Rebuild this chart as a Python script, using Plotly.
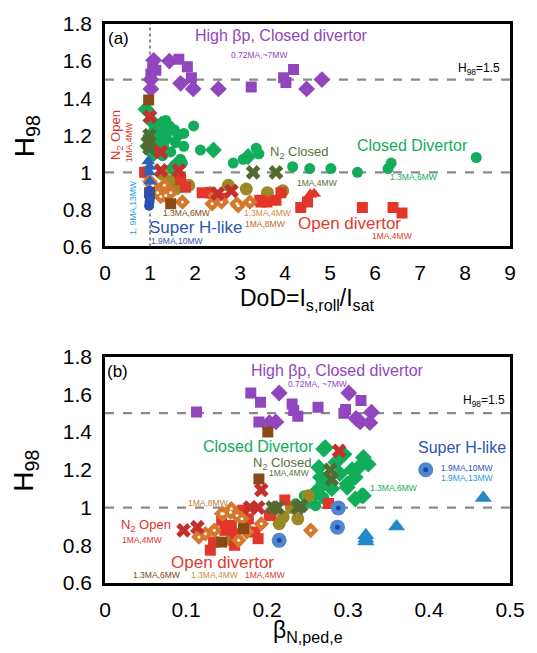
import plotly.graph_objects as go

# ---------------- Panel (a): H98 vs DoD ----------------
a_purple_sq_x = [1.64, 1.83, 1.13, 1.02, 1.92, 3.25, 3.97, 4.02, 4.19, 1.06]
a_purple_sq_y = [1.61, 1.57, 1.55, 1.53, 1.51, 1.46, 1.51, 1.485, 1.555, 1.56]
a_purple_di_x = [1.08, 1.43, 1.02, 1.02, 1.68, 1.96, 2.52, 4.48, 4.82]
a_purple_di_y = [1.604, 1.60, 1.50, 1.45, 1.48, 1.45, 1.45, 1.45, 1.50]

a_green_ci_x = [1.35, 1.43, 1.54, 1.75, 1.97, 1.21, 1.57, 1.75, 1.46, 2.12, 2.85, 3.07,
                3.36, 3.42, 4.17, 4.55, 5.02, 5.61, 6.29, 6.36, 8.25, 1.28, 1.10, 1.68,
                1.30, 1.62, 1.15, 1.40, 1.72]
a_green_ci_y = [1.28, 1.25, 1.23, 1.21, 1.25, 1.19, 1.16, 1.14, 1.11, 1.12, 1.05, 1.07,
                1.13, 1.10, 1.03, 1.02, 1.02, 1.00, 1.02, 1.05, 1.08, 1.09, 1.24, 1.07,
                1.14, 1.20, 1.16, 1.22, 1.05]
a_green_di_x = [0.91, 1.02, 1.02, 0.95, 2.41, 3.18, 1.35, 1.18, 1.50, 1.62, 1.08, 1.25]
a_green_di_y = [1.34, 1.28, 1.20, 1.14, 1.12, 1.085, 1.18, 1.22, 1.02, 1.05, 1.10, 1.26]

a_olive_ci_x = [0.91, 1.28, 1.54, 1.86, 1.57, 2.74, 3.14, 3.61, 3.95, 2.34, 1.40]
a_olive_ci_y = [1.00, 0.99, 0.96, 0.93, 0.91, 0.93, 0.91, 0.89, 0.90, 0.89, 0.95]

a_orange_di_x = [1.17, 1.35, 1.46, 1.72, 2.38, 2.59, 2.96, 3.22, 1.06, 1.32, 1.24, 2.45, 2.93, 1.00]
a_orange_di_y = [0.89, 0.875, 0.89, 0.84, 0.83, 0.84, 0.82, 0.84, 0.93, 0.93, 0.87, 0.875, 0.83, 0.95]

a_red_sq_x = [2.16, 2.34, 3.44, 3.60, 3.80, 3.91, 4.35, 4.50, 5.72, 6.40, 6.60, 1.68, 1.79, 0.88, 2.60, 3.47]
a_red_sq_y = [0.89, 0.89, 0.85, 0.84, 0.85, 0.89, 0.81, 0.84, 0.81, 0.81, 0.78, 0.96, 0.92, 1.00, 0.86, 0.84]
a_red_tri_x = [4.56, 4.65]
a_red_tri_y = [0.88, 0.885]

a_brown_sq_x = [0.97, 1.46, 0.99]
a_brown_sq_y = [1.39, 0.83, 0.89]

a_redx_x = [1.00, 1.24, 1.24, 1.64, 2.50, 2.81]
a_redx_y = [1.30, 1.11, 1.01, 1.01, 0.885, 0.90]
a_olivex_x = [0.99, 0.95, 3.29, 3.80, 0.99]
a_olivex_y = [1.20, 1.16, 1.00, 1.00, 1.13]

a_blue_ci_x = [0.98, 0.99, 1.00, 0.98, 0.99]
a_blue_ci_y = [0.82, 0.84, 0.86, 0.88, 0.90]
a_cyan_tri_x = [0.96, 0.99, 0.98, 1.00]
a_cyan_tri_y = [1.06, 1.03, 1.00, 0.95]

# ---------------- Panel (b): H98 vs beta_N,ped,e ----------------
b_purple_sq_x = [0.180, 0.192, 0.113, 0.190, 0.231, 0.233, 0.238, 0.263, 0.316, 0.297, 0.295]
b_purple_sq_y = [1.607, 1.558, 1.507, 1.454, 1.549, 1.514, 1.484, 1.532, 1.567, 1.52, 1.50]
b_purple_di_x = [0.215, 0.203, 0.211, 0.301, 0.310, 0.315, 0.327, 0.329]
b_purple_di_y = [1.607, 1.45, 1.454, 1.607, 1.472, 1.454, 1.45, 1.505]

b_green_di_x = [0.272, 0.295, 0.319, 0.313, 0.309, 0.299, 0.319, 0.264, 0.266, 0.262,
                0.270, 0.299, 0.309, 0.317, 0.270, 0.285, 0.290, 0.280, 0.305, 0.325]
b_green_di_y = [1.317, 1.282, 1.265, 1.212, 1.16, 1.107, 1.063, 1.212, 1.16, 1.09,
                1.133, 1.125, 1.045, 1.063, 1.31, 1.24, 1.18, 1.10, 1.20, 1.23]
b_green_ci_x = [0.246, 0.258, 0.260, 0.270, 0.260, 0.270, 0.235, 0.250]
b_green_ci_y = [1.063, 1.07, 1.01, 1.045, 1.063, 1.054, 1.02, 1.03]

b_olive_ci_x = [0.251, 0.215, 0.220, 0.173, 0.238, 0.156, 0.230]
b_olive_ci_y = [1.063, 0.914, 0.95, 0.896, 0.94, 0.826, 1.00]

b_orange_di_x = [0.144, 0.155, 0.163, 0.116, 0.124, 0.165, 0.193, 0.254, 0.156, 0.146, 0.169, 0.135, 0.175]
b_orange_di_y = [0.967, 0.975, 0.958, 0.844, 0.861, 0.826, 0.914, 0.879, 0.993, 0.967, 0.94, 0.88, 0.87]

b_red_sq_x = [0.130, 0.134, 0.148, 0.144, 0.156, 0.161, 0.185, 0.189, 0.177, 0.222, 0.205, 0.276, 0.203, 0.160, 0.170]
b_red_sq_y = [0.774, 0.817, 0.879, 0.932, 0.905, 0.861, 0.87, 0.835, 0.94, 1.04, 0.967, 1.022, 0.958, 0.80, 0.985]

b_brown_sq_x = [0.201, 0.190, 0.144, 0.171]
b_brown_sq_y = [1.40, 1.151, 0.817, 0.888]

b_redx_x = [0.193, 0.289, 0.097, 0.114, 0.179, 0.189]
b_redx_y = [1.093, 1.30, 0.879, 0.896, 1.00, 1.00]
b_olivex_x = [0.278, 0.280, 0.207, 0.213, 0.238, 0.242]
b_olivex_y = [1.20, 1.15, 1.00, 1.00, 1.00, 1.01]

b_blue_ci_x = [0.215, 0.288, 0.287]
b_blue_ci_y = [0.826, 0.998, 0.896]
b_cyan_tri_x = [0.322, 0.322, 0.322, 0.360, 0.467]
b_cyan_tri_y = [0.820, 0.835, 0.853, 0.900, 1.050]
b_key_x = [0.396]
b_key_y = [1.20]

H98_REF = [1.0, 1.5]
X_TICKS_A = [0, 1, 2, 3, 4, 5, 6, 7, 8, 9]
X_TICKS_B = [0, 0.1, 0.2, 0.3, 0.4, 0.5]
X_TEXT_B = ["0", "0.1", "0.2", "0.3", "0.4", "0.5"]
Y_TICKS = [0.6, 0.8, 1.0, 1.2, 1.4, 1.6, 1.8]
Y_TEXT = ["0.6", "0.8", "1", "1.2", "1.4", "1.6", "1.8"]

PURPLE = "#9146BE"
GREEN = "#12AD5B"
OLIVE = "#9A8A25"
ORANGE = "#D5782B"
RED = "#E3362A"
REDX = "#C4302B"
BROWN = "#8A4A16"
OLIVEX = "#536B31"
BLUE = "#2B50B0"
LIGHTBLUE = "#4F86CF"
CYAN = "#2389C8"
FONT = "Liberation Sans, Arial, sans-serif"

fig = go.Figure()


def pts(x, y, ax, color, symbol, size, line_color=None, line_width=0):
    fig.add_trace(go.Scatter(
        x=x, y=y, mode="markers", xaxis="x" + ax, yaxis="y" + ax,
        marker=dict(color=color, symbol=symbol, size=size,
                    line=dict(color=line_color or color, width=line_width)),
        showlegend=False, hoverinfo="x+y"))


for ax, d in (("", "a"), ("2", "b")):
    g = globals()
    pts(g[d + "_purple_sq_x"], g[d + "_purple_sq_y"], ax, PURPLE, "square", 11)
    pts(g[d + "_purple_di_x"], g[d + "_purple_di_y"], ax, PURPLE, "diamond", 13)
    pts(g[d + "_green_ci_x"], g[d + "_green_ci_y"], ax, GREEN, "circle", 11)
    pts(g[d + "_green_di_x"], g[d + "_green_di_y"], ax, GREEN, "diamond", 13)
    pts(g[d + "_olive_ci_x"], g[d + "_olive_ci_y"], ax, OLIVE, "circle", 13)
    pts(g[d + "_red_sq_x"], g[d + "_red_sq_y"], ax, RED, "square", 11)
    pts(g[d + "_orange_di_x"], g[d + "_orange_di_y"], ax, ORANGE, "diamond", 12)
    pts(g[d + "_orange_di_x"], g[d + "_orange_di_y"], ax, "white", "circle", 3)
    pts(g[d + "_brown_sq_x"], g[d + "_brown_sq_y"], ax, BROWN, "square", 11)
    pts(g[d + "_redx_x"], g[d + "_redx_y"], ax, REDX, "x", 13)
    pts(g[d + "_olivex_x"], g[d + "_olivex_y"], ax, OLIVEX, "x", 13)

pts(a_red_tri_x, a_red_tri_y, "", RED, "triangle-up", 12)
pts(a_cyan_tri_x, a_cyan_tri_y, "", "#2C64BC", "triangle-up", 12)
pts(a_blue_ci_x, a_blue_ci_y, "", BLUE, "circle", 10)

pts(b_cyan_tri_x, b_cyan_tri_y, "2", CYAN, "triangle-up", 15)
pts(b_blue_ci_x + b_key_x, b_blue_ci_y + b_key_y, "2", LIGHTBLUE, "circle", 15)
pts(b_blue_ci_x + b_key_x, b_blue_ci_y + b_key_y, "2", "#1E44A6", "circle", 5)

# reference lines
shapes = []
for ax, xmax in (("", X_TICKS_A[-1]), ("2", X_TICKS_B[-1])):
    for h in H98_REF:
        shapes.append(dict(type="line", xref="x" + ax, yref="y" + ax, x0=0, x1=xmax,
                           y0=h, y1=h, line=dict(color="#8a8a8a", width=2.2, dash="dash"),
                           layer="below"))
shapes.append(dict(type="line", xref="x", yref="y", x0=1, x1=1, y0=0.6, y1=1.8,
                   line=dict(color="#8a8a8a", width=2, dash="dot"), layer="below"))

ann = []


def txt(x, y, s, ax, color, size, angle=0, xanchor="center"):
    ann.append(dict(x=x, y=y, xref="x" + ax, yref="y" + ax, text=s, showarrow=False,
                    font=dict(color=color, size=size, family=FONT), textangle=angle,
                    xanchor=xanchor, yanchor="middle"))


# panel (a) labels
txt(0.29, 1.72, "(a)", "", "black", 17)
txt(3.93, 1.736, "High βp, Closed divertor", "", PURPLE, 16)
txt(3.42, 1.635, "0.72MA,~7MW", "", PURPLE, 8.5)
txt(8.31, 1.56, "H<sub>98</sub>=1.5", "", "black", 12)
txt(0.26, 1.20, "N<sub>2</sub> Open", "", "#D9342B", 13, -90)
txt(0.52, 1.165, "1MA,4MW", "", "#D9342B", 8.5, -90)
txt(0.61, 0.81, "1, 9MA,13MW", "", "#2A9AD6", 8.5, -90)
txt(4.32, 1.107, "N<sub>2</sub> Closed", "", "#587236", 13)
txt(4.71, 0.94, "1MA,4MW", "", "#587236", 8.5)
txt(6.84, 1.144, "Closed Divertor", "", GREEN, 16)
txt(6.86, 0.973, "1.3MA,6MW", "", GREEN, 8.5)
txt(5.44, 0.723, "Open divertor", "", "#E03A2E", 17)
txt(6.38, 0.659, "1MA,4MW", "", "#E03A2E", 8.5)
txt(1.80, 0.781, "1.3MA,6MW", "", "#7A4A20", 8.5)
txt(3.62, 0.781, "1.3MA,4MW", "", "#D08A3A", 8.5)
txt(3.55, 0.723, "1MA,8MW", "", "#B8692A", 8.5)
txt(2.02, 0.700, "Super H-like", "", "#2E55B0", 17)
txt(1.60, 0.632, "1.9MA,10MW", "", "#2E55B0", 8.5)

# panel (b) labels
txt(0.016, 1.72, "(b)", "2", "black", 17)
txt(0.287, 1.726, "High βp, Closed divertor", "2", PURPLE, 16)
txt(0.262, 1.653, "0.72MA, ~7MW", "2", PURPLE, 8.5)
txt(0.468, 1.563, "H<sub>98</sub>=1.5", "2", "black", 12)
txt(0.190, 1.324, "Closed Divertor", "2", GREEN, 16)
txt(0.2195, 1.236, "N<sub>2</sub> Closed", "2", "#587236", 13)
txt(0.227, 1.183, "1MA,4MW", "2", "#587236", 8.5)
txt(0.441, 1.316, "Super H-like", "2", "#2E55B0", 16)
txt(0.412, 1.210, "1.9MA,10MW", "2", "#2E55B0", 8.5, xanchor="left")
txt(0.412, 1.158, "1.9MA,13MW", "2", "#2A9AD6", 8.5, xanchor="left")
txt(0.356, 1.105, "1.3MA,6MW", "2", GREEN, 8.5)
txt(0.127, 1.026, "1MA,8MW", "2", "#C08040", 8.5)
txt(0.050, 0.905, "N<sub>2</sub> Open", "2", "#D9342B", 13)
txt(0.046, 0.826, "1MA,4MW", "2", "#D9342B", 8.5)
txt(0.145, 0.710, "Open divertor", "2", "#E03A2E", 17)
txt(0.063, 0.642, "1.3MA,6MW", "2", "#7A4A20", 8.5)
txt(0.135, 0.642, "1.3MA,4MW", "2", "#D08A3A", 8.5)
txt(0.198, 0.642, "1MA,4MW", "2", "#E03A2E", 8.5)

# axis titles
for yref, ypos, xtitle, xpos in (("y domain", 0.496, "DoD=I<sub>s,roll</sub>/I<sub>sat</sub>", -0.237),
                                 ("y2 domain", 0.496, "β<sub>N,ped,e</sub>", -0.215)):
    xref = "x domain" if yref == "y domain" else "x2 domain"
    ann.append(dict(x=-0.195, y=ypos, xref=xref, yref=yref, text="H<sub>98</sub>",
                    showarrow=False, textangle=-90, xanchor="center", yanchor="middle",
                    font=dict(size=28, family=FONT, color="black")))
    ann.append(dict(x=0.5, y=xpos, xref=xref, yref=yref, text=xtitle,
                    showarrow=False, xanchor="center", yanchor="middle",
                    font=dict(size=23, family=FONT, color="black")))

axis_common = dict(showline=True, linecolor="black", linewidth=2.5, mirror=True,
                   showgrid=False, zeroline=False, ticks="",
                   tickfont=dict(size=21, family=FONT, color="black"))

fig.update_layout(
    width=537, height=653,
    margin=dict(l=105, r=22, t=20, b=70),
    plot_bgcolor="white", paper_bgcolor="white",
    xaxis=dict(domain=[0, 1], range=[0, 9], anchor="y", tickvals=X_TICKS_A,
               ticktext=[str(v) for v in X_TICKS_A], ticklabelstandoff=6, **axis_common),
    yaxis=dict(domain=[0.602, 1], range=[0.6, 1.8], anchor="x", tickvals=Y_TICKS,
               ticktext=Y_TEXT, ticklabelstandoff=6, **axis_common),
    xaxis2=dict(domain=[0, 1], range=[0, 0.5], anchor="y2", tickvals=X_TICKS_B,
                ticktext=X_TEXT_B, ticklabelstandoff=6, **axis_common),
    yaxis2=dict(domain=[0, 0.405], range=[0.6, 1.8], anchor="x2", tickvals=Y_TICKS,
                ticktext=Y_TEXT, ticklabelstandoff=6, **axis_common),
    shapes=shapes,
    annotations=ann,
    font=dict(family=FONT),
)

fig.write_html("out.html")
